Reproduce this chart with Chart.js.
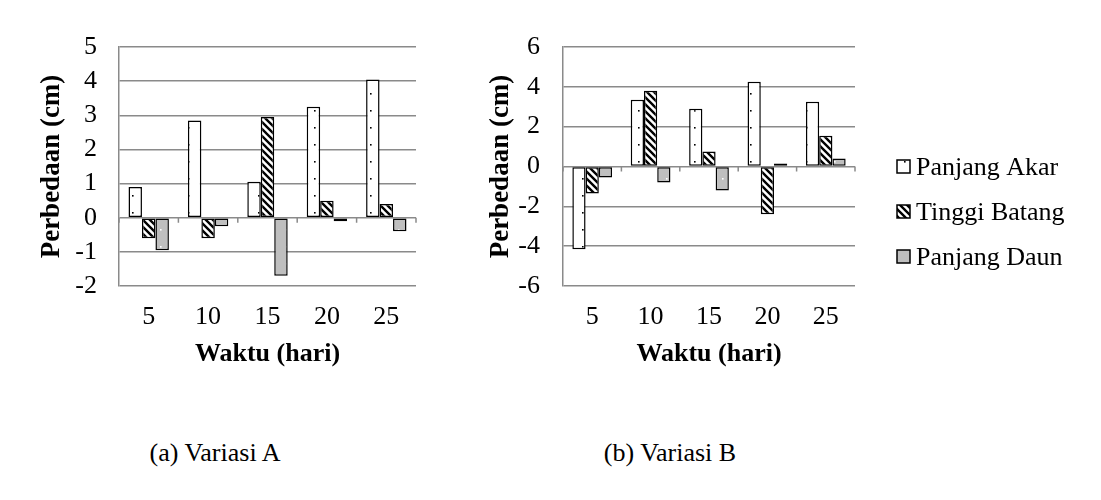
<!DOCTYPE html>
<html>
<head>
<meta charset="UTF-8">
<title>Perbedaan Variasi A dan B</title>
<script src="https://cdn.jsdelivr.net/npm/chart.js@4.4.0/dist/chart.umd.min.js"></script>
<style>
    body { margin: 0; background: #fff; width: 1101px; height: 500px; position: relative; overflow: hidden; font-family: 'Liberation Serif', serif; }
    #boxA { position: absolute; left: 0; top: 0; width: 440px; height: 370px; }
    #boxB { position: absolute; left: 450px; top: 0; width: 651px; height: 370px; }
    .cap { position: absolute; top: 438px; width: 300px; font-size: 26px; line-height: 30px; text-align: center; color: #000; }
</style>
</head>
<body>
<div id="boxA"><canvas id="chartA"></canvas></div>
<div id="boxB"><canvas id="chartB"></canvas></div>
<div class="cap" style="left:65px">(a) Variasi A</div>
<div class="cap" style="left:520px">(b) Variasi B</div>

<script>
    // data
    var hari = ['5', '10', '15', '20', '25'];
    var namaSeri = ['Panjang Akar', 'Tinggi Batang', 'Panjang Daun'];

    var akarA   = [0.9, 2.85, 1.05, 3.25, 4.05];
    var batangA = [-0.6, -0.6, 2.95, 0.5, 0.4];
    var daunA   = [-0.95, -0.25, -1.7, -0.1, -0.4];

    var akarB   = [-4.15, 3.35, 2.9, 4.25, 3.25];
    var batangB = [-1.35, 3.8, 0.75, -2.4, 1.55];
    var daunB   = [-0.55, -0.8, -1.2, 0.15, 0.4];

    var sumbuA = [-2, 5, 1];   // min, max, step
    var sumbuB = [-6, 6, 2];

    var gridColor = '#8a8a8a';
    var serif = 'Liberation Serif';
    var fTick = 26, fJudul = 26;

    // pola isian seperti di Excel
    function polaTitik(bg, dot) {
        var c = document.createElement('canvas');
        c.width = 14; c.height = 17;
        var g = c.getContext('2d');
        g.fillStyle = bg; g.fillRect(0, 0, 14, 17);
        g.fillStyle = dot; g.fillRect(6, 8, 1.6, 1.6);
        return g.createPattern(c, 'repeat');
    }
    function polaGaris() {
        var s = 7;
        var c = document.createElement('canvas');
        c.width = s; c.height = s;
        var g = c.getContext('2d');
        g.fillStyle = '#fff'; g.fillRect(0, 0, s, s);
        g.strokeStyle = '#000'; g.lineWidth = 2.4;
        g.beginPath();
        g.moveTo(-1, -1); g.lineTo(s + 1, s + 1);
        g.moveTo(s - 1, -1); g.lineTo(s + 1, 1);
        g.moveTo(-1, s - 1); g.lineTo(1, s + 1);
        g.stroke();
        return g.createPattern(c, 'repeat');
    }
    var isiAkar = polaTitik('#ffffff', '#000000');
    var isiBatang = polaGaris();
    var isiDaun = polaTitik('#bfbfbf', '#ffffff');

    function buatDataset(akar, batang, daun) {
        var isi = [isiAkar, isiBatang, isiDaun];
        return [akar, batang, daun].map(function (d, i) {
            return {
                label: namaSeri[i],
                data: d,
                backgroundColor: isi[i],
                borderColor: '#000',
                borderWidth: 1.5,
                borderSkipped: false,
                barPercentage: 1,
                categoryPercentage: 0.68
            };
        });
    }

    // garis kecil di sumbu nol
    var tickNol = {
        id: 'tickNol',
        afterDatasetsDraw: function (chart) {
            var ctx = chart.ctx, x = chart.scales.x, y = chart.scales.y;
            var y0 = y.getPixelForValue(0);
            ctx.save();
            ctx.strokeStyle = gridColor;
            ctx.lineWidth = 1.5;
            ctx.beginPath();
            for (var i = 0; i <= hari.length; i++) {
                var px = x.getPixelForValue(i - 0.5);
                ctx.moveTo(px, y0);
                ctx.lineTo(px, y0 + 5);
            }
            ctx.stroke();
            ctx.restore();
        }
    };

    // legenda di kanan grafik B
    var legendaKanan = {
        id: 'legendaKanan',
        afterDraw: function (chart) {
            var ctx = chart.ctx, area = chart.chartArea;
            var bx = area.right + 42;
            ctx.save();
            ctx.font = fJudul + 'px "' + serif + '"';
            ctx.textBaseline = 'middle';
            chart.data.datasets.forEach(function (ds, i) {
                var cy = 167 + i * 45;
                ctx.fillStyle = ds.backgroundColor;
                ctx.fillRect(bx, cy - 7, 13, 13);
                ctx.strokeStyle = '#000';
                ctx.lineWidth = 1.5;
                ctx.strokeRect(bx, cy - 7, 13, 13);
                ctx.fillStyle = '#000';
                ctx.fillText(ds.label, bx + 19, cy + 1);
            });
            ctx.restore();
        }
    };

    function buatConfig(datasets, sumbu, lebarY, padKanan, padTick, padJudul) {
        return {
            type: 'bar',
            data: { labels: hari, datasets: datasets },
            options: {
                responsive: true,
                maintainAspectRatio: false,
                animation: false,
                layout: { padding: { top: 47, right: padKanan, left: 0, bottom: 0 } },
                plugins: { legend: { display: false }, tooltip: { enabled: false } },
                scales: {
                    x: {
                        grid: { display: false, drawTicks: false },
                        border: { display: false },
                        ticks: { autoSkip: false, maxRotation: 0, color: '#000', font: { family: serif, size: fTick }, padding: 16 },
                        title: {
                            display: true, text: 'Waktu (hari)', color: '#000',
                            font: { family: serif, size: fJudul, weight: 'bold' },
                            padding: { top: 0, bottom: 0 }
                        },
                        afterFit: function (s) { s.height = 84; }
                    },
                    y: {
                        min: sumbu[0], max: sumbu[1],
                        ticks: { autoSkip: false, stepSize: sumbu[2], color: '#000', font: { family: serif, size: fTick }, padding: padTick },
                        grid: { color: gridColor, lineWidth: 1.5, drawTicks: false },
                        border: { display: true, color: gridColor, width: 1.5 },
                        title: {
                            display: true, text: 'Perbedaan (cm)', color: '#000',
                            font: { family: serif, size: 27, weight: 'bold' },
                            padding: { top: padJudul, bottom: 0 }
                        },
                        afterFit: function (s) { s.width = lebarY; }
                    }
                }
            }
        };
    }

    var cfgA = buatConfig(buatDataset(akarA, batangA, daunA), sumbuA, 119, 24, 22, 36);
    cfgA.plugins = [tickNol];
    var grafikA = new Chart(document.getElementById('chartA').getContext('2d'), cfgA);

    var cfgB = buatConfig(buatDataset(akarB, batangB, daunB), sumbuB, 113, 246, 23, 35);
    cfgB.plugins = [tickNol, legendaKanan];
    var grafikB = new Chart(document.getElementById('chartB').getContext('2d'), cfgB);
</script>
</body>
</html>
